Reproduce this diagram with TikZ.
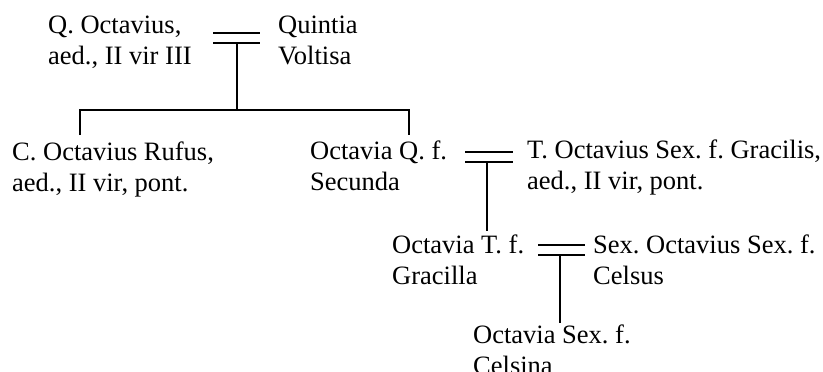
\documentclass[tikz,border=0pt]{standalone}
\usepackage{fontspec}
\setmainfont{Liberation Serif}
\begin{document}
\frenchspacing
\begin{tikzpicture}[x=1pt,y=-1pt,
  person/.style={anchor=base west, inner sep=0pt, align=left, font=\fontsize{26.5}{31}\selectfont\frenchspacing},
  rel/.style={line width=1.8pt}]
\useasboundingbox (0,0) rectangle (823,372);
% persons (anchor is the baseline of the second line)
\node[person] (qo) at (48,64) {Q. Octavius,\\aed., II vir III};
\node[person] (qv) at (278,64) {Quintia\\Voltisa};
\node[person] (cr) at (12,191) {C. Octavius Rufus,\\aed., II vir, pont.};
\node[person] (os) at (310,190) {Octavia Q. f.\\Secunda};
\node[person] (tg) at (527,189) {T. Octavius Sex. f. Gracilis,\\aed., II vir, pont.};
\node[person] (og) at (392,284) {Octavia T. f.\\Gracilla};
\node[person] (sc) at (593,284) {Sex. Octavius Sex. f.\\Celsus};
\node[person] (oc) at (473,374) {Octavia Sex. f.\\Celsina};
% marriage 1
\coordinate (m1a) at (213,32.7); \coordinate (m1b) at (260,32.7);
\coordinate (m1c) at (213,43.3); \coordinate (m1d) at (260,43.3);
\coordinate (m1) at (237.3,43.3); \coordinate (f1) at (237.3,110);
\coordinate (f1l) at (80,110); \coordinate (f1r) at (409,110);
\coordinate (k1) at (80,135); \coordinate (k2) at (409,135);
\draw[rel] (m1a) -- (m1b);
\draw[rel] (m1c) -- (m1d);
\draw[rel] (m1) -- (f1);
\draw[rel] (k1) -- (f1l) -- (f1r) -- (k2);
% marriage 2
\coordinate (m2a) at (465,151.7); \coordinate (m2b) at (513,151.7);
\coordinate (m2c) at (465,161.7); \coordinate (m2d) at (513,161.7);
\coordinate (m2) at (487.3,161.7); \coordinate (k3) at (487.3,230.7);
\draw[rel] (m2a) -- (m2b);
\draw[rel] (m2c) -- (m2d);
\draw[rel] (m2) -- (k3);
% marriage 3
\coordinate (m3a) at (538,245); \coordinate (m3b) at (585,245);
\coordinate (m3c) at (538,255); \coordinate (m3d) at (585,255);
\coordinate (m3) at (560,255); \coordinate (k4) at (560,322.7);
\draw[rel] (m3a) -- (m3b);
\draw[rel] (m3c) -- (m3d);
\draw[rel] (m3) -- (k4);
\end{tikzpicture}
\end{document}
